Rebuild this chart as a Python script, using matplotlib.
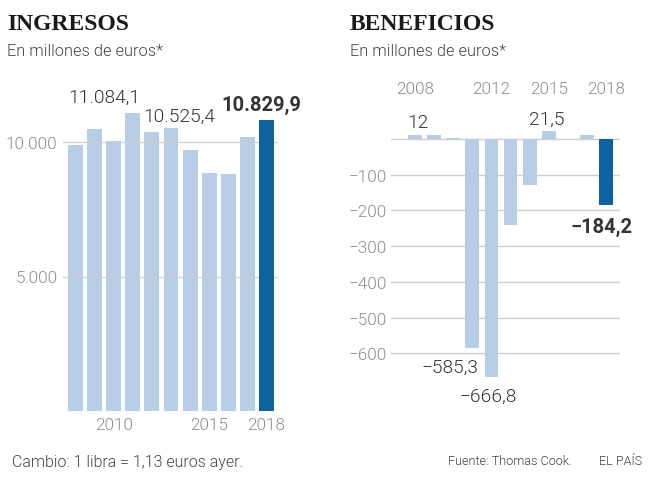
import matplotlib
matplotlib.use("Agg")
import matplotlib.pyplot as plt

years = list(range(2008, 2019))
ingresos = [9890, 10480, 10040, 11084.1, 10390, 10525.4, 9690, 8830, 8810, 10180, 10829.9]
beneficios = [12, 10, 1.5, -585.3, -666.8, -240, -129, 21.5, 0, 11, -184.2]

ing_ticks = [5000, 10000]
ing_ticklabels = ["5.000", "10.000"]
ben_ticks = [-100, -200, -300, -400, -500, -600]
ben_ticklabels = ["\u2212100", "\u2212200", "\u2212300", "\u2212400", "\u2212500", "\u2212600"]
ing_years = [2010, 2015, 2018]
ben_years = [2008, 2012, 2015, 2018]

LIGHT = "#b7cce5"
DARK = "#0c63a0"
GRID = "#cdcdcd"
TICK = "#8c8c8c"
TXT = "#333333"
SANS = ["Roboto", "DejaVu Sans"]
LW = 300

W, H = 653, 489
fig = plt.figure(figsize=(W / 100, H / 100), dpi=100)
fig.patch.set_facecolor("white")


def ax_px(x0, x1, ytop, ybot):
    return fig.add_axes([x0 / W, (H - ybot) / H, (x1 - x0) / W, (ybot - ytop) / H])


# ---------- Left: INGRESOS ----------
axL = ax_px(63, 278, 89.2, 412)
xs = list(range(len(years)))
axL.bar(xs[:-1], ingresos[:-1], width=0.78, color=LIGHT, zorder=2)
axL.bar(xs[-1:], ingresos[-1:], width=0.78, color=DARK, zorder=4)
for t in ing_ticks:
    axL.axhline(t, color=GRID, lw=1.0, zorder=3, alpha=0.9)
axL.set_xlim(-0.65, 10.6)
axL.set_ylim(0, 12000)
axL.set_yticks(ing_ticks)
axL.set_yticklabels(ing_ticklabels, fontsize=12.3, color=TICK, family=SANS, fontweight=LW)
axL.set_xticks([years.index(y) for y in ing_years])
axL.set_xticklabels([str(y) for y in ing_years], fontsize=12.3, color=TICK, family=SANS,
                    fontweight=LW)
axL.tick_params(length=0, pad=4)
for s in axL.spines.values():
    s.set_visible(False)

i11 = years.index(2011)
axL.text(i11 - 1.51, 11673, "11.084,1", ha="center", va="center",
         fontsize=13.8, color=TXT, family=SANS, fontweight=LW)
i13 = years.index(2013)
axL.text(i13 + 0.44, 10967, "10.525,4", ha="center", va="center",
         fontsize=13.8, color=TXT, family=SANS, fontweight=LW)
i18 = years.index(2018)
axL.text(i18 - 0.29, 11413, "10.829,9", ha="center", va="center",
         fontsize=14.5, color=TXT, family=SANS, fontweight="bold")

# ---------- Right: BENEFICIOS ----------
axR = ax_px(391, 620, 86.4, 390)
axR.bar(xs[:-1], beneficios[:-1], width=0.72, color=LIGHT, zorder=2)
axR.bar(xs[-1:], beneficios[-1:], width=0.72, color=DARK, zorder=2)
axR.axhline(0, color=GRID, lw=1.0, zorder=1)
for t in ben_ticks:
    axR.axhline(t, color=GRID, lw=1.0, zorder=1)
axR.set_xlim(-1.26, 10.73)
axR.set_ylim(-700, 150)
axR.set_yticks(ben_ticks)
axR.set_yticklabels(ben_ticklabels, fontsize=12.3, color=TICK, family=SANS, fontweight=LW)
axR.set_xticks([])
axR.tick_params(length=0, pad=3)
for s in axR.spines.values():
    s.set_visible(False)
for y in ben_years:
    axR.text(years.index(y), 140, str(y), ha="center", va="center",
             fontsize=12.3, color=TICK, family=SANS, fontweight=LW)

j08 = years.index(2008)
axR.text(j08 + 0.16, 47.6, "12", ha="center", va="center",
         fontsize=13.8, color=TXT, family=SANS, fontweight=LW)
j15 = years.index(2015)
axR.text(j15 - 0.09, 56, "21,5", ha="center", va="center",
         fontsize=13.8, color=TXT, family=SANS, fontweight=LW)
j11 = years.index(2011)
axR.text(j11 - 1.19, -638, "\u2212585,3", ha="center", va="center",
         fontsize=13.8, color=TXT, family=SANS, fontweight=LW)
j12 = years.index(2012)
axR.text(j12 - 0.15, -719, "\u2212666,8", ha="center", va="center",
         fontsize=13.8, color=TXT, family=SANS, fontweight=LW)
j18 = years.index(2018)
axR.text(j18 - 0.26, -243.6, "\u2212184,2", ha="center", va="center",
         fontsize=14.5, color=TXT, family=SANS, fontweight="bold")

# ---------- Titles & footer ----------
SERIF = ["Liberation Serif", "DejaVu Serif"]
fig.text(7 / W, 1 - 25 / H, "INGRESOS", ha="left", va="center", fontsize=17,
         fontweight="bold", family=SERIF, color="#1a1a1a")
fig.text(350 / W, 1 - 25 / H, "BENEFICIOS", ha="left", va="center", fontsize=17,
         fontweight="bold", family=SERIF, color="#1a1a1a")
fig.text(7 / W, 1 - 52 / H, "En millones de euros*", ha="left", va="center",
         fontsize=11.8, family=SANS, color="#444444", fontweight=LW)
fig.text(350 / W, 1 - 52 / H, "En millones de euros*", ha="left", va="center",
         fontsize=11.8, family=SANS, color="#444444", fontweight=LW)
fig.text(12 / W, 1 - 463 / H, "Cambio: 1 libra = 1,13 euros ayer.", ha="left",
         va="center", fontsize=11.5, family=SANS, color="#444444", fontweight=LW)
fig.text(448 / W, 1 - 462 / H, "Fuente: Thomas Cook.", ha="left", va="center",
         fontsize=9.1, family=SANS, color="#444444", fontweight=LW)
fig.text(642 / W, 1 - 462 / H, "EL PAÍS", ha="right", va="center",
         fontsize=9.1, family=SANS, color="#444444", fontweight=LW)

fig.savefig("out.png", dpi=100, facecolor="white")
